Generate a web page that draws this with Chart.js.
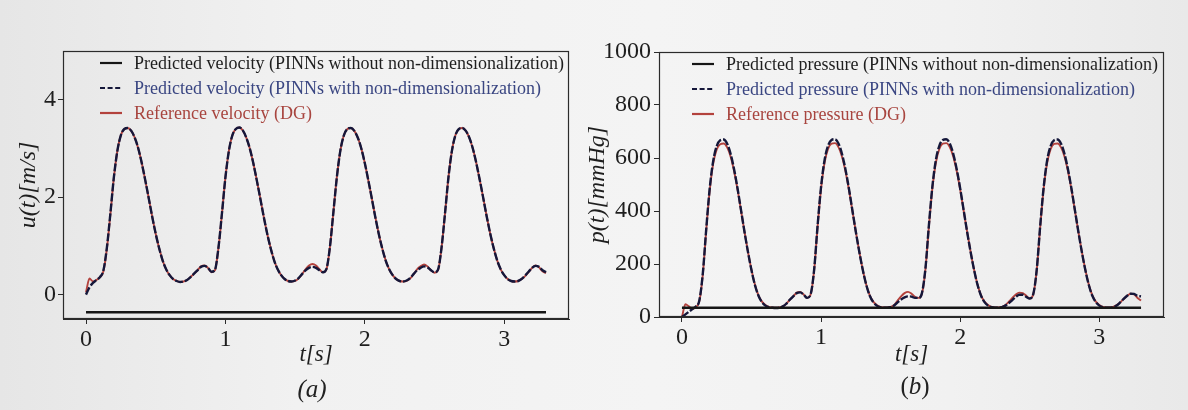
<!DOCTYPE html>
<html>
<head>
<meta charset="utf-8">
<script src="https://cdn.jsdelivr.net/npm/chart.js@4.4.0/dist/chart.umd.min.js"></script>
<style>
  html, body { margin: 0; padding: 0; background: #efefef; }
  #wrap { position: relative; width: 1188px; height: 410px; overflow: hidden;
          background: linear-gradient(90deg, #e6e6e6 0%, #f1f1f1 25%, #f4f4f4 55%, #f1f1f1 80%, #e9e9e9 100%); }
  .pane { position: absolute; top: 0; height: 410px; }
  .cap { position: absolute; font-family: "Liberation Serif", serif; font-size: 25px; color: #222;
         width: 80px; text-align: center; line-height: 30px; }
</style>
</head>
<body>
<div id="wrap">
  <div class="pane" style="left:0px;width:594px;"><canvas id="cvVel" width="594" height="410"></canvas></div>
  <div class="pane" style="left:580px;width:608px;"><canvas id="cvPre" width="608" height="410"></canvas></div>
  <div class="cap" style="left:272px;top:374px;font-style:italic;">(a)</div>
  <div class="cap" style="left:875px;top:371px;">(<i>b</i>)</div>
</div>
<script>
// ---------------- DATA ----------------
const timeStep = 0.025;            // sampling of the curves, seconds (t = 0 ... 3.3)
const xTickLabels = [0, 1, 2, 3];
const velTicks = [0, 2, 4];
const preTicks = [0, 200, 400, 600, 800, 1000];

const flatTime = [0, 3.3];
const velFlat = [-0.36, -0.36];     // PINNs without non-dimensionalization
const preFlat = [35, 35];

// Reference velocity (DG), m/s
const velRef = [
  0.05, 0.33, 0.27, 0.30, 0.36, 0.48, 0.95, 1.65, 2.40, 2.95, 3.27, 3.40, 3.42, 3.36, 3.22, 3.00,
  2.70, 2.35, 1.98, 1.60, 1.25, 0.95, 0.70, 0.52, 0.40, 0.32, 0.28, 0.26, 0.27, 0.30, 0.36, 0.43,
  0.50, 0.58, 0.60, 0.55, 0.46, 0.50, 0.95, 1.65, 2.40, 2.95, 3.27, 3.40, 3.43, 3.37, 3.22, 3.00,
  2.70, 2.35, 1.98, 1.60, 1.25, 0.95, 0.70, 0.52, 0.40, 0.32, 0.28, 0.27, 0.28, 0.33, 0.42, 0.52,
  0.60, 0.63, 0.60, 0.52, 0.46, 0.52, 0.98, 1.70, 2.42, 2.96, 3.27, 3.40, 3.42, 3.36, 3.22, 3.00,
  2.70, 2.35, 1.98, 1.60, 1.25, 0.95, 0.70, 0.52, 0.40, 0.32, 0.28, 0.27, 0.28, 0.33, 0.42, 0.52,
  0.58, 0.62, 0.58, 0.50, 0.45, 0.50, 0.95, 1.65, 2.40, 2.95, 3.27, 3.40, 3.42, 3.36, 3.22, 3.00,
  2.70, 2.35, 1.98, 1.60, 1.25, 0.95, 0.70, 0.52, 0.40, 0.32, 0.28, 0.27, 0.28, 0.32, 0.38, 0.46,
  0.55, 0.60, 0.56, 0.48, 0.44
];
// Predicted velocity (PINNs with non-dimensionalization), m/s
const velPinn = [
  0.00, 0.15, 0.24, 0.30, 0.36, 0.50, 0.97, 1.67, 2.41, 2.95, 3.27, 3.40, 3.42, 3.36, 3.22, 3.00,
  2.70, 2.35, 1.98, 1.60, 1.25, 0.95, 0.70, 0.52, 0.40, 0.32, 0.28, 0.26, 0.27, 0.30, 0.36, 0.43,
  0.50, 0.57, 0.59, 0.55, 0.47, 0.51, 0.96, 1.66, 2.40, 2.95, 3.27, 3.40, 3.43, 3.37, 3.22, 3.00,
  2.70, 2.35, 1.98, 1.60, 1.25, 0.95, 0.70, 0.52, 0.40, 0.32, 0.28, 0.27, 0.29, 0.34, 0.42, 0.50,
  0.55, 0.57, 0.55, 0.50, 0.46, 0.53, 0.98, 1.70, 2.42, 2.96, 3.27, 3.40, 3.42, 3.36, 3.22, 3.00,
  2.70, 2.35, 1.98, 1.60, 1.25, 0.95, 0.70, 0.52, 0.40, 0.32, 0.28, 0.27, 0.29, 0.34, 0.42, 0.50,
  0.55, 0.58, 0.56, 0.50, 0.46, 0.51, 0.95, 1.65, 2.40, 2.95, 3.27, 3.40, 3.42, 3.36, 3.22, 3.00,
  2.70, 2.35, 1.98, 1.60, 1.25, 0.95, 0.70, 0.52, 0.40, 0.32, 0.28, 0.27, 0.28, 0.32, 0.39, 0.47,
  0.55, 0.59, 0.57, 0.50, 0.46
];
// Reference pressure (DG), mmHg
const preRef = [
  0, 48, 40, 30, 38, 60, 160, 330, 480, 580, 632, 652, 655, 640, 605, 550,
  480, 400, 320, 245, 178, 122, 82, 58, 45, 38, 36, 35, 36, 40, 50, 65,
  78, 92, 95, 85, 72, 85, 175, 340, 485, 582, 634, 654, 656, 641, 606, 551,
  481, 401, 321, 246, 178, 122, 82, 58, 45, 38, 36, 36, 38, 45, 62, 78,
  90, 95, 88, 76, 72, 88, 178, 340, 485, 582, 634, 654, 656, 641, 606, 551,
  481, 401, 321, 246, 178, 122, 82, 58, 45, 38, 36, 36, 38, 45, 58, 72,
  85, 92, 90, 80, 70, 85, 175, 338, 484, 581, 633, 653, 655, 640, 605, 550,
  480, 400, 320, 245, 178, 122, 82, 58, 45, 38, 36, 36, 38, 45, 55, 68,
  80, 88, 85, 72, 62
];
// Predicted pressure (PINNs with non-dimensionalization), mmHg
const prePinn = [
  0, 10, 20, 30, 40, 62, 165, 335, 488, 590, 645, 667, 670, 654, 615, 557,
  484, 402, 320, 244, 176, 120, 80, 56, 43, 37, 35, 34, 35, 40, 50, 65,
  78, 90, 93, 84, 72, 86, 178, 345, 492, 592, 646, 668, 671, 655, 616, 558,
  485, 403, 321, 245, 177, 121, 80, 56, 43, 37, 35, 35, 37, 43, 55, 66,
  74, 78, 77, 72, 72, 90, 182, 346, 492, 592, 646, 668, 671, 655, 616, 558,
  485, 403, 321, 245, 177, 121, 80, 56, 43, 37, 35, 35, 37, 43, 53, 64,
  76, 84, 84, 76, 70, 86, 178, 343, 490, 591, 645, 667, 670, 654, 615, 557,
  484, 402, 320, 244, 176, 120, 80, 56, 43, 37, 35, 35, 37, 43, 55, 68,
  80, 88, 87, 80, 78
];

const velLabels = [
  'Predicted velocity (PINNs without non-dimensionalization)',
  'Predicted velocity (PINNs with non-dimensionalization)',
  'Reference velocity (DG)'
];
const preLabels = [
  'Predicted pressure (PINNs without non-dimensionalization)',
  'Predicted pressure (PINNs with non-dimensionalization)',
  'Reference pressure (DG)'
];
const legendTextColors = ['#1e1e1e', '#3a4682', '#a8453f'];

// ---------------- HELPERS ----------------
function toPoints(values) {
  return values.map((v, i) => ({ x: +(i * timeStep).toFixed(3), y: v }));
}
function pair(xs, ys) { return xs.map((x, i) => ({ x: x, y: ys[i] })); }

const SERIF = '"Liberation Serif", "Times New Roman", serif';

const framePlugin = {
  id: 'frameBox',
  afterDraw(chart) {
    const { ctx, chartArea: a } = chart;
    ctx.save();
    ctx.strokeStyle = '#2b2b2b';
    ctx.lineWidth = 1.2;
    ctx.setLineDash([]);
    ctx.strokeRect(Math.round(a.left) + 0.5, Math.round(a.top) + 0.5,
                   Math.round(a.width) - 1, Math.round(a.height) - 1);
    ctx.restore();
  }
};

const insideLegend = {
  id: 'insideLegend',
  afterDraw(chart, args, opts) {
    const { ctx, chartArea: a } = chart;
    ctx.save();
    ctx.font = opts.font;
    ctx.textBaseline = 'middle';
    chart.data.datasets.forEach((ds, i) => {
      const y = a.top + opts.top + i * opts.rowGap;
      const x0 = a.left + opts.left;
      ctx.strokeStyle = ds.borderColor;
      ctx.lineWidth = 2.2;
      ctx.setLineDash(ds.borderDash ? [5, 2.6] : []);
      ctx.beginPath();
      ctx.moveTo(x0, y);
      ctx.lineTo(x0 + opts.sample, y);
      ctx.stroke();
      ctx.setLineDash([]);
      ctx.fillStyle = opts.textColors[i];
      ctx.fillText(ds.label, x0 + opts.sample + opts.gap, y + 1);
    });
    ctx.restore();
  }
};

function makeChart(canvasId, cfg) {
  return new Chart(document.getElementById(canvasId), {
    type: 'line',
    data: {
      datasets: [
        { label: cfg.labels[0], data: pair(flatTime, cfg.flat), borderColor: '#161616',
          borderWidth: 2.6, pointRadius: 0, tension: 0 },
        { label: cfg.labels[1], data: toPoints(cfg.pinn), borderColor: '#15173a',
          borderDash: [8, 2], borderWidth: 2.4, pointRadius: 0, cubicInterpolationMode: 'monotone' },
        { label: cfg.labels[2], data: toPoints(cfg.ref), borderColor: '#b3423d',
          borderWidth: 1.9, pointRadius: 0, cubicInterpolationMode: 'monotone' }
      ]
    },
    options: {
      responsive: false,
      animation: false,
      devicePixelRatio: 1,
      layout: { padding: { left: 0, right: cfg.padRight, top: cfg.padTop, bottom: 0 } },
      plugins: {
        legend: { display: false },
        tooltip: { enabled: false },
        insideLegend: { font: '18px ' + SERIF, top: 12, rowGap: 25, left: cfg.legLeft,
                        sample: 22, gap: 12, textColors: legendTextColors }
      },
      scales: {
        x: {
          type: 'linear', min: -0.165, max: 3.465,
          afterBuildTicks: s => { s.ticks = xTickLabels.map(v => ({ value: v })); },
          afterFit: s => { s.height = cfg.xHeight; },
          ticks: { font: { family: SERIF, size: 24 }, color: '#1e1e1e', padding: 1,
                   maxRotation: 0, autoSkip: false, callback: v => String(v) },
          grid: { drawOnChartArea: false, drawTicks: true, tickLength: 5, color: '#2b2b2b', lineWidth: 1 },
          border: { display: true, color: '#2b2b2b', width: 1 },
          title: { display: true, text: 't[s]', color: '#1e1e1e',
                   font: { family: SERIF, size: 23, style: 'italic' }, padding: { top: 0, bottom: 41 } }
        },
        y: {
          type: 'linear', min: cfg.yMin, max: cfg.yMax,
          afterBuildTicks: s => { s.ticks = cfg.yTicks.map(v => ({ value: v })); },
          afterFit: s => { s.width = cfg.yWidth; },
          ticks: { font: { family: SERIF, size: 24 }, color: '#1e1e1e', padding: cfg.yPad,
                   autoSkip: false, callback: v => String(v) },
          grid: { drawOnChartArea: false, drawTicks: true, tickLength: 5, color: '#2b2b2b', lineWidth: 1 },
          border: { display: true, color: '#2b2b2b', width: 1 },
          title: { display: true, text: cfg.yTitle, color: '#1e1e1e',
                   font: { family: SERIF, size: 24, style: 'italic' }, padding: { top: cfg.yTitlePad, bottom: 0 } }
        }
      }
    },
    plugins: [framePlugin, insideLegend]
  });
}

makeChart('cvVel', {
  labels: velLabels, flat: velFlat, pinn: velPinn, ref: velRef,
  yMin: -0.5, yMax: 5, yTicks: velTicks, yTitle: 'u(t)[m/s]',
  padRight: 25, padTop: 51, xHeight: 91, yWidth: 63, yPad: 2, yTitlePad: 14, legLeft: 37
});
makeChart('cvPre', {
  labels: preLabels, flat: preFlat, pinn: prePinn, ref: preRef,
  yMin: 0, yMax: 1000, yTicks: preTicks, yTitle: 'p(t)[mmHg]',
  padRight: 24, padTop: 52, xHeight: 93, yWidth: 79, yPad: 3, yTitlePad: 3, legLeft: 33
});
</script>
</body>
</html>
